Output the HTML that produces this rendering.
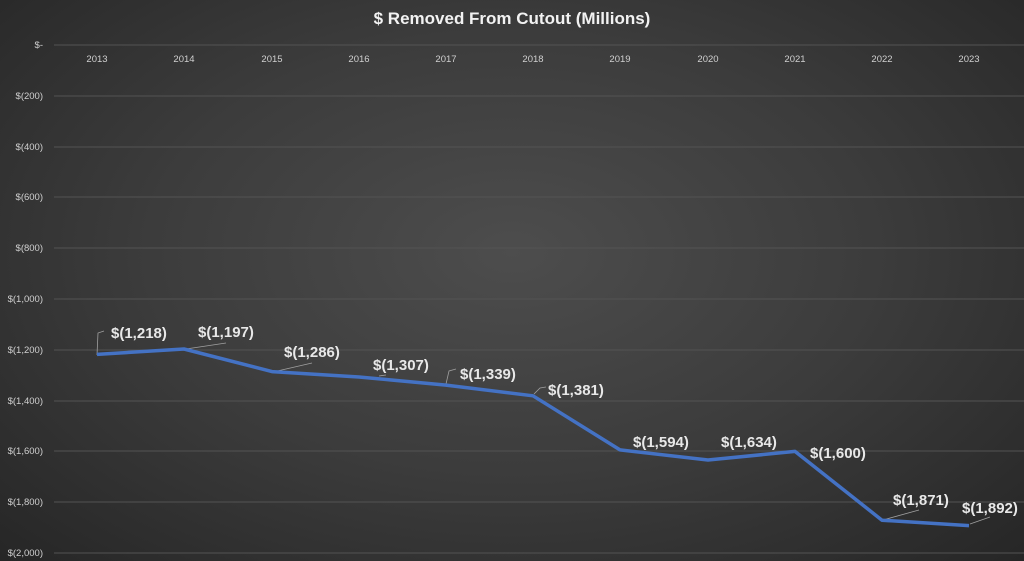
<!DOCTYPE html>
<html><head><meta charset="utf-8"><style>
html,body{margin:0;padding:0;width:1024px;height:561px;overflow:hidden;}
body{background:radial-gradient(ellipse at 50% 45%,#4d4d4d 0%,#3c3c3c 50%,#262626 100%);}
svg{display:block;font-family:"Liberation Sans",sans-serif;}
</style></head><body>
<svg width="1024" height="561" xmlns="http://www.w3.org/2000/svg">
<text x="512" y="24" text-anchor="middle" fill="#f2f2f2" font-size="17" font-weight="bold">$ Removed From Cutout (Millions)</text>
<g stroke="#535353" stroke-width="1">
<line x1="54" x2="1024" y1="45" y2="45"/><line x1="54" x2="1024" y1="96" y2="96"/>
<line x1="54" x2="1024" y1="147" y2="147"/><line x1="54" x2="1024" y1="197" y2="197"/>
<line x1="54" x2="1024" y1="248" y2="248"/><line x1="54" x2="1024" y1="299" y2="299"/>
<line x1="54" x2="1024" y1="350" y2="350"/><line x1="54" x2="1024" y1="401" y2="401"/>
<line x1="54" x2="1024" y1="451" y2="451"/><line x1="54" x2="1024" y1="502" y2="502"/>
<line x1="54" x2="1024" y1="553" y2="553"/>
</g>
<g fill="#d0d0d0" font-size="9.5" text-anchor="end">
<text x="43" y="48">$-</text><text x="43" y="99">$(200)</text><text x="43" y="150">$(400)</text>
<text x="43" y="200">$(600)</text><text x="43" y="251">$(800)</text><text x="43" y="302">$(1,000)</text>
<text x="43" y="353">$(1,200)</text><text x="43" y="404">$(1,400)</text><text x="43" y="454">$(1,600)</text>
<text x="43" y="505">$(1,800)</text><text x="43" y="556">$(2,000)</text>
</g>
<g fill="#d0d0d0" font-size="9.5" text-anchor="middle">
<text x="97" y="62">2013</text><text x="184" y="62">2014</text><text x="272" y="62">2015</text>
<text x="359" y="62">2016</text><text x="446" y="62">2017</text><text x="533" y="62">2018</text>
<text x="620" y="62">2019</text><text x="708" y="62">2020</text><text x="795" y="62">2021</text>
<text x="882" y="62">2022</text><text x="969" y="62">2023</text>
</g>
<g stroke="#a0a0a0" stroke-width="0.8" fill="none">
<polyline points="97,355 98,333 104,331"/>
<polyline points="186,349 226,343"/>
<polyline points="273,372 312,363"/>
<polyline points="379,376 386,375"/>
<polyline points="446,384 449,371 456,369"/>
<polyline points="534,394 540,388 546,387"/>
<polyline points="883,520 919,510"/>
<polyline points="970,524 990,517"/>
</g>
<polyline points="97,354.4 184,349 272,371.6 359,377 446,385.1 533,395.8 620,449.9 708,460 795,451.4 882,520.2 969,525.6" fill="none" stroke="#4472c4" stroke-width="3.5" stroke-linejoin="round"/>
<g fill="#e8e8e8" font-size="15" font-weight="bold">
<text x="111" y="338">$(1,218)</text><text x="198" y="337">$(1,197)</text>
<text x="284" y="357">$(1,286)</text><text x="373" y="370">$(1,307)</text>
<text x="460" y="379">$(1,339)</text><text x="548" y="395">$(1,381)</text>
<text x="633" y="447">$(1,594)</text><text x="721" y="447">$(1,634)</text>
<text x="810" y="458">$(1,600)</text><text x="893" y="505">$(1,871)</text>
<text x="962" y="513">$(1,892)</text>
</g>
</svg>
</body></html>
